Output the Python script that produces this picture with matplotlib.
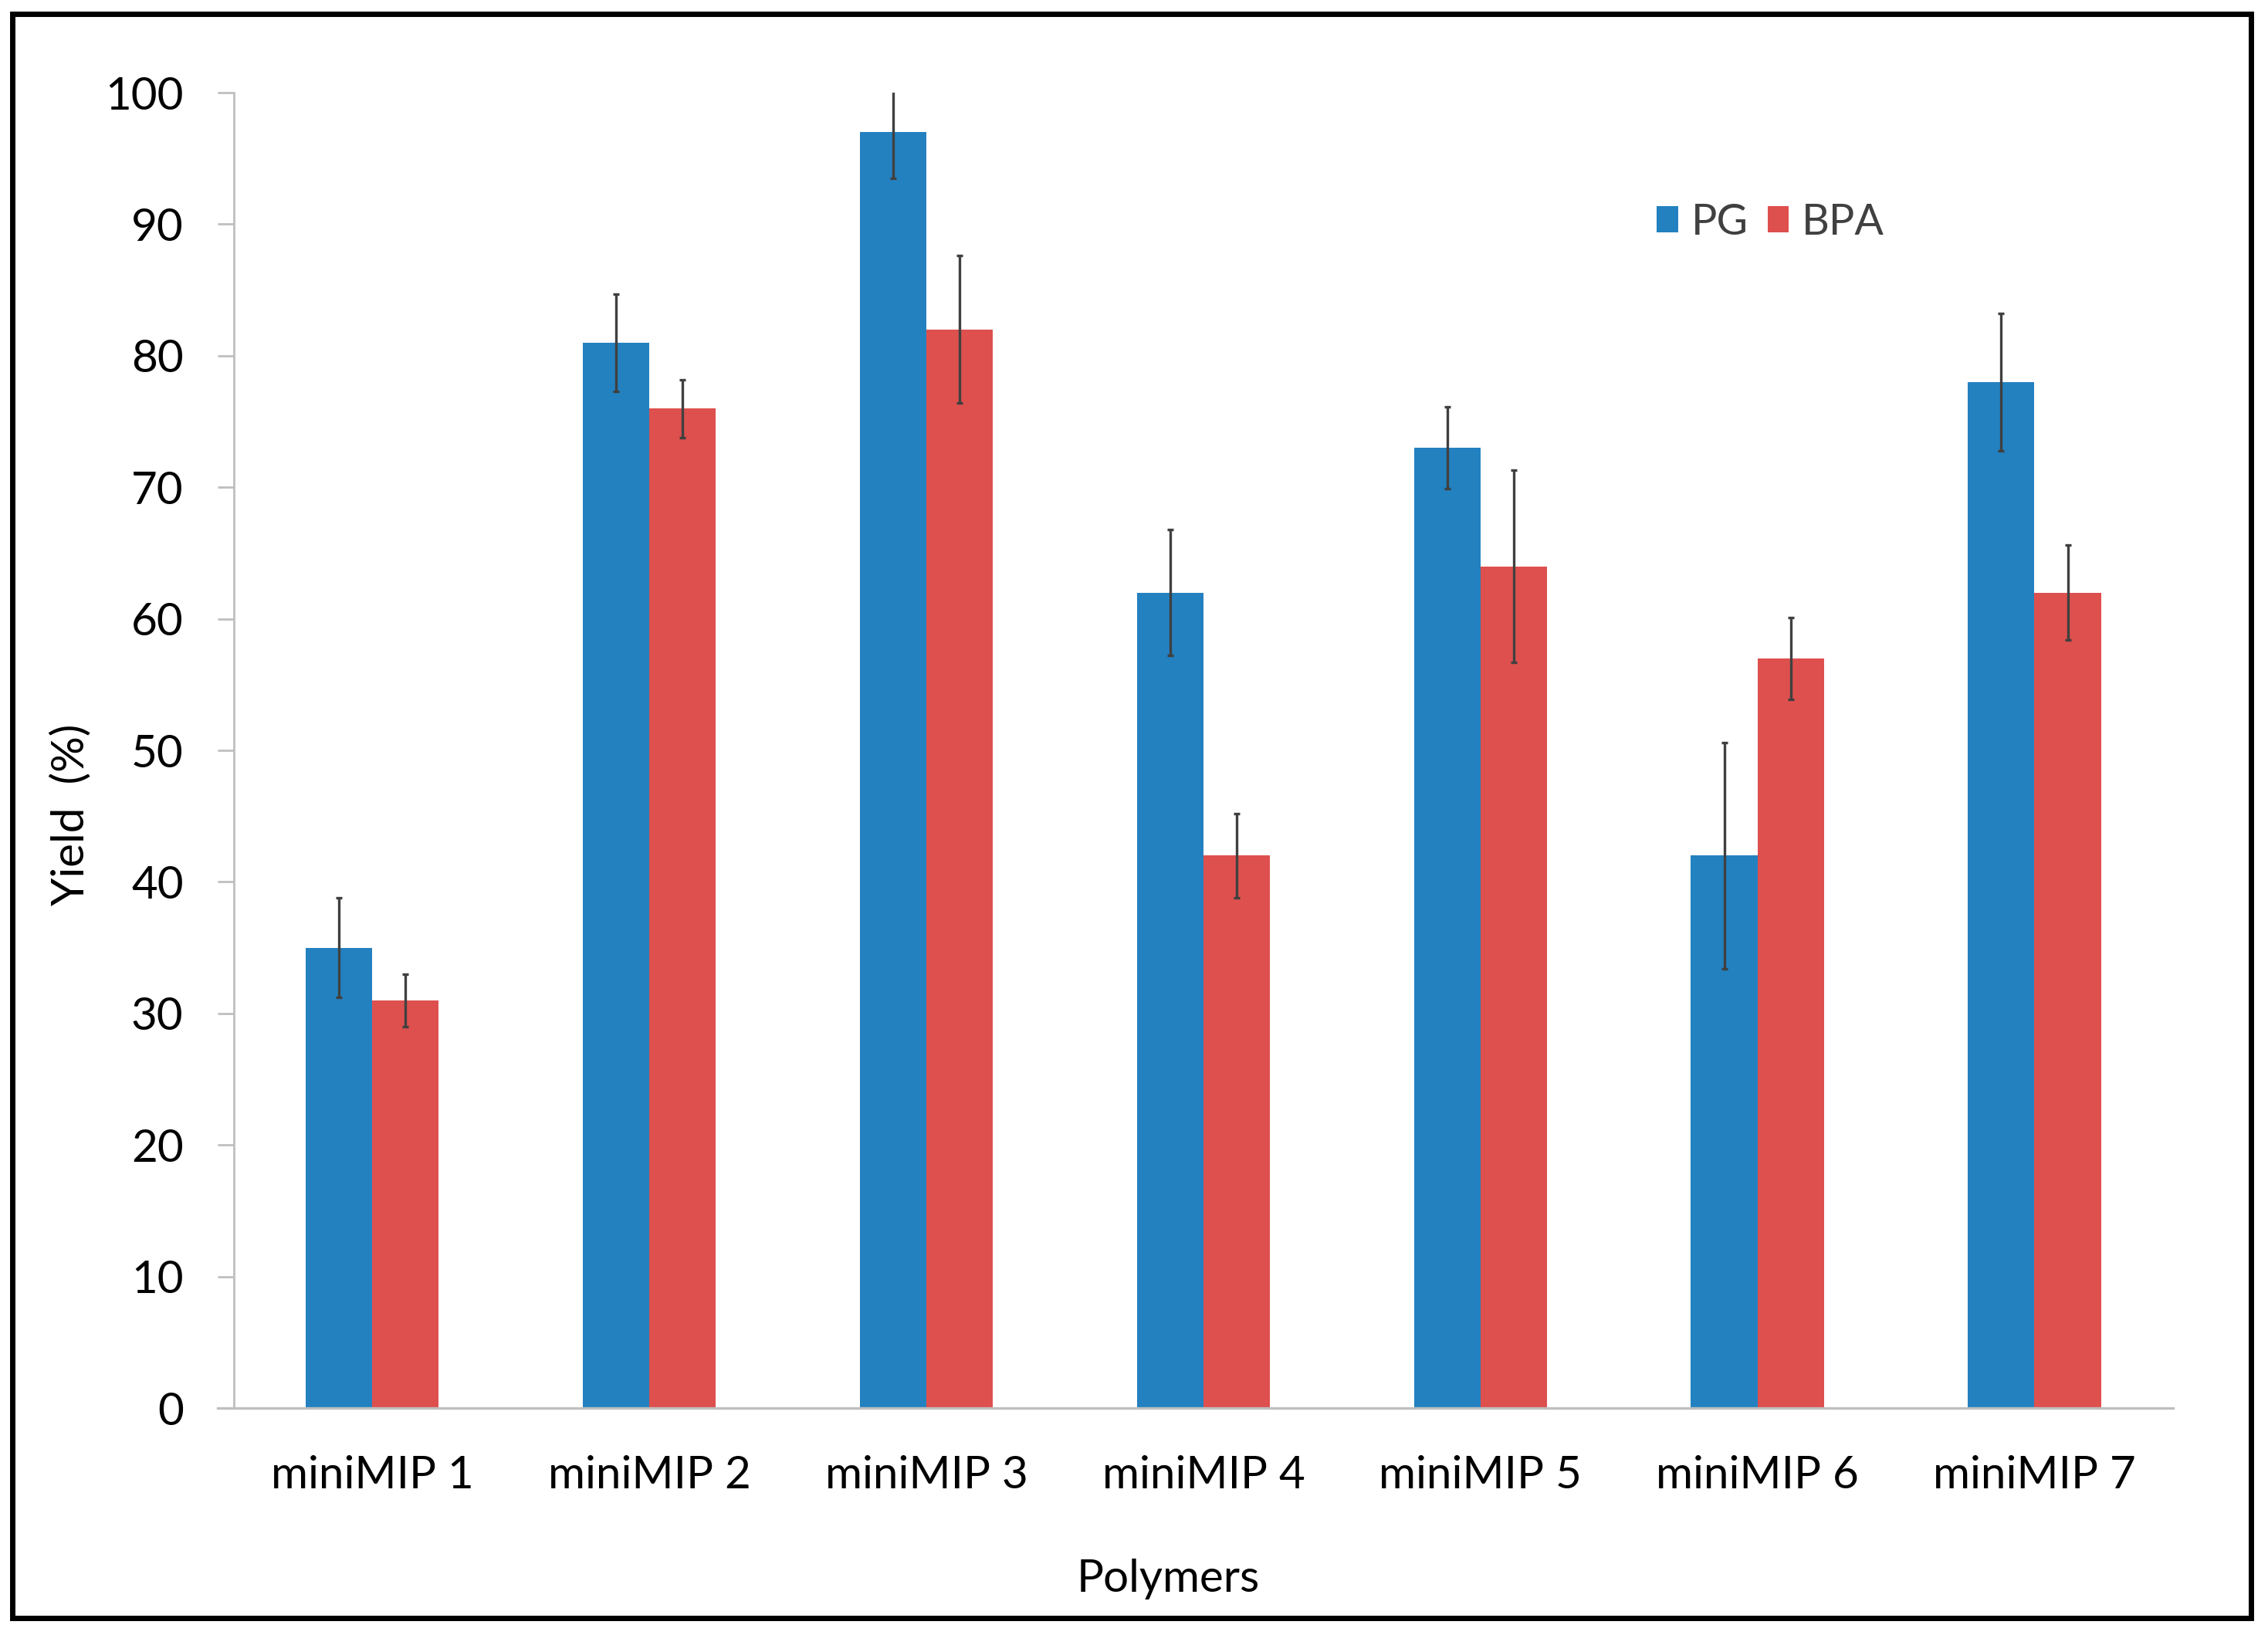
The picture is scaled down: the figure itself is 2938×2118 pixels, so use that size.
import numpy as np
import matplotlib.pyplot as plt
from matplotlib.patches import Rectangle

polymers = ['miniMIP 1', 'miniMIP 2', 'miniMIP 3', 'miniMIP 4',
            'miniMIP 5', 'miniMIP 6', 'miniMIP 7']
pg = [35, 81, 97, 62, 73, 42, 78]
pg_err = [3.8, 3.7, 3.5, 4.8, 3.1, 8.6, 5.2]
bpa = [31, 76, 82, 42, 64, 57, 62]
bpa_err = [2.0, 2.2, 5.6, 3.2, 7.3, 3.1, 3.6]
yticks = [0, 10, 20, 30, 40, 50, 60, 70, 80, 90, 100]

blue = '#2381C0'
red = '#DD504E'
gray = '#BFBFBF'

plt.rcParams['font.family'] = 'Lato'
fs = 21

fig = plt.figure(figsize=(14.69, 10.59), dpi=200)
ax = fig.add_axes([0.1031, 0.1388, 0.855, 0.8045])

x = np.arange(len(polymers))
w = 0.24
ekw = dict(ecolor='#404040', elinewidth=1.2, capsize=1.3, capthick=1.2)
ax.bar(x - w/2, pg, w, color=blue, label='PG', yerr=pg_err, error_kw=ekw)
ax.bar(x + w/2, bpa, w, color=red, label='BPA', yerr=bpa_err, error_kw=ekw)

ax.set_xlim(-0.5, 6.5)
ax.set_ylim(0, 100)
ax.set_yticks(yticks)
ax.set_xticks(x)
ax.set_xticklabels(polymers)

for s in ['top', 'right', 'bottom']:
    ax.spines[s].set_visible(False)
ax.spines['left'].set_color(gray)
ax.spines['left'].set_linewidth(1.0)
ax.plot([-0.5 - 0.0585, 6.5], [0, 0], color=gray, lw=1.2, clip_on=False, zorder=3)

ax.tick_params(axis='y', length=7.5, width=1.0, color=gray, pad=16, labelsize=fs)
ax.tick_params(axis='x', length=0, pad=22, labelsize=fs)

ax.set_ylabel('Yield  (%)', fontsize=fs)
ax.yaxis.set_label_coords(-0.0735, 0.451)
fig.text(0.515, 0.034, 'Polymers', fontsize=fs, ha='center', va='center')

leg = ax.legend(loc='center left', bbox_to_anchor=(0.7305, 0.8640),
                bbox_transform=fig.transFigure, ncol=2, frameon=False,
                fontsize=20, handlelength=0.5, handleheight=0.57,
                handletextpad=0.3, columnspacing=0.45, borderpad=0,
                borderaxespad=0)
for t in leg.get_texts():
    t.set_color('#404040')

fig.patches.append(Rectangle((0.0056, 0.0102), 0.987, 0.9811, fill=False,
                             edgecolor='black', lw=2.5,
                             transform=fig.transFigure, figure=fig))

fig.savefig('out.png', dpi=200)
